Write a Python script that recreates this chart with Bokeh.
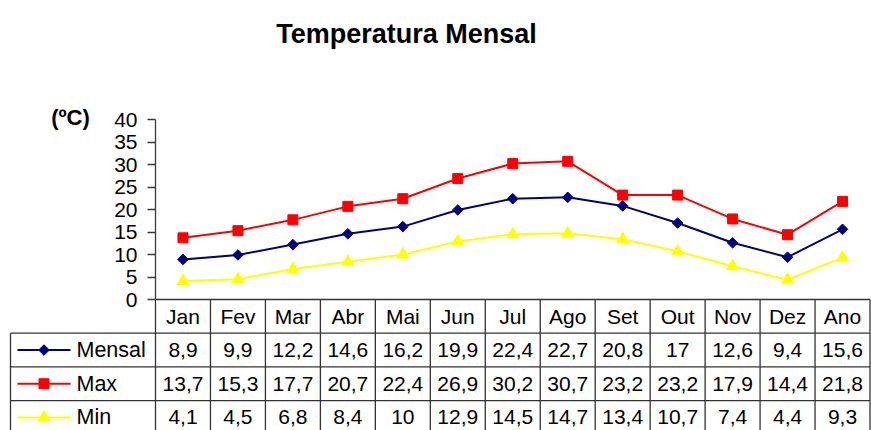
import numpy as np
from bokeh.plotting import figure
from bokeh.models import Range1d, LinearAxis, FixedTicker
from bokeh.embed import file_html
from bokeh.resources import INLINE
from bokeh.core.properties import value

# ---------------- data ----------------
title_text = "Temperatura Mensal"
unit_label = "(ºC)"
months = ["Jan", "Fev", "Mar", "Abr", "Mai", "Jun", "Jul", "Ago", "Set", "Out", "Nov", "Dez", "Ano"]
series_names = ["Mensal", "Max", "Min"]
mensal = [8.9, 9.9, 12.2, 14.6, 16.2, 19.9, 22.4, 22.7, 20.8, 17, 12.6, 9.4, 15.6]
tmax = [13.7, 15.3, 17.7, 20.7, 22.4, 26.9, 30.2, 30.7, 23.2, 23.2, 17.9, 14.4, 21.8]
tmin = [4.1, 4.5, 6.8, 8.4, 10, 12.9, 14.5, 14.7, 13.4, 10.7, 7.4, 4.4, 9.3]
y_ticks = [0, 5, 10, 15, 20, 25, 30, 35, 40]

# ---------------- layout (page pixels) ----------------
W, H = 871, 430
ORG = 0                     # canvas origin on the page
AX_X = 155                  # x of the value axis / first table column
Y_TOP, Y_ZERO = 119, 299    # y of 40 and of 0
ROW_H = 33.7
LEG_L = 10
FONT = "Liberation Sans"

n = len(months)
k = (W - (AX_X - ORG) - 1.5) / n          # px per column
ppu = (Y_ZERO - Y_TOP) / (max(y_ticks) - min(y_ticks))

x_range = Range1d(-(AX_X - ORG) / k, n + 1.5 / k)
y_range = Range1d(-(ORG + H - Y_ZERO) / ppu, max(y_ticks) + (Y_TOP - ORG) / ppu)

p = figure(width=W, height=H, x_range=x_range, y_range=y_range,
           x_axis_type=None, y_axis_type=None, toolbar_location=None,
           output_backend="svg", min_border=0)
p.min_border_left = p.min_border_right = p.min_border_top = p.min_border_bottom = 0
p.outline_line_color = None
p.background_fill_color = "white"
p.border_fill_color = "white"

p.extra_y_ranges = {
    "tab": Range1d((ORG + H - Y_ZERO) / ROW_H, -(Y_ZERO - ORG) / ROW_H),
    "py": Range1d(ORG + H, ORG),
}
p.extra_x_ranges = {"px": Range1d(ORG, ORG + W)}

# ---------------- value axis ----------------
yaxis = LinearAxis(fixed_location=0, bounds=(min(y_ticks), max(y_ticks)),
                   ticker=FixedTicker(ticks=y_ticks))
yaxis.axis_line_color = "#3a3a3a"
yaxis.axis_line_width = 1.3
yaxis.major_tick_line_color = "#3a3a3a"
yaxis.major_tick_line_width = 1.3
yaxis.major_tick_out = 8
yaxis.major_tick_in = 0
yaxis.minor_tick_line_color = None
yaxis.major_label_text_font = FONT
yaxis.major_label_text_font_size = "21px"
yaxis.major_label_text_color = "black"
yaxis.major_label_standoff = 10
p.add_layout(yaxis, "left")

# ---------------- series ----------------
xc = np.arange(n) + 0.5
styles = [
    dict(color="#000080", marker="square", size=7.5, angle=np.pi / 4),
    dict(color="#ff0000", marker="square", size=10, angle=0),
    dict(color="#ffff00", marker="triangle", size=12, angle=0),
]
series = [mensal, tmax, tmin]
for vals, st in zip(series, styles):
    p.line(xc, vals, line_color=st["color"], line_width=2)
for vals, st in zip(series, styles):
    p.scatter(xc, vals, marker=st["marker"], size=st["size"], angle=st["angle"],
              fill_color=st["color"], line_color=st["color"])

# ---------------- data table ----------------
tab_bottom = (ORG + H - Y_ZERO) / ROW_H + 0.2
leg_x = (LEG_L - AX_X) / k
n_rows = len(series_names) + 1
line_kw = dict(line_color="#333333", line_width=1.3, y_range_name="tab")
# vertical lines
p.segment(x0=list(range(n + 1)), y0=[0] * (n + 1), x1=list(range(n + 1)),
          y1=[tab_bottom] * (n + 1), **line_kw)
p.segment(x0=[leg_x], y0=[1], x1=[leg_x], y1=[tab_bottom], **line_kw)
# horizontal lines
p.segment(x0=[0] + [leg_x] * (n_rows - 1), y0=list(range(n_rows)),
          x1=[n] * n_rows, y1=list(range(n_rows)), **line_kw)


def fmt(v):
    if float(v).is_integer():
        return str(int(v))
    return f"{v:.1f}".replace(".", ",")


txt_kw = dict(text_font=value(FONT), text_font_size="21px", text_color="black",
              text_align="center", text_baseline="middle", y_range_name="tab")
p.text(x=xc, y=[0.5] * n, text=months, **txt_kw)
for r, vals in enumerate(series, start=1):
    p.text(x=xc, y=[r + 0.5] * n, text=[fmt(v) for v in vals], **txt_kw)

# legend keys in first column
for r, (name, st) in enumerate(zip(series_names, styles), start=1):
    p.line(x=[17, 70], y=[r + 0.5, r + 0.5], line_color=st["color"], line_width=2,
           x_range_name="px", y_range_name="tab")
    p.scatter(x=[43.5], y=[r + 0.5], marker=st["marker"], size=st["size"], angle=st["angle"],
              fill_color=st["color"], line_color=st["color"],
              x_range_name="px", y_range_name="tab")
p.text(x=[76] * len(series_names), y=[r + 0.5 for r in range(1, n_rows)], text=series_names,
       text_font=value(FONT), text_font_size="21.5px", text_color="black",
       text_align="left", text_baseline="middle", x_range_name="px", y_range_name="tab")

# ---------------- titles ----------------
p.text(x=[406], y=[33], text=[title_text], text_font=value(FONT), text_font_size="27px",
       text_font_style="bold", text_color="black", text_align="center",
       text_baseline="alphabetic", x_range_name="px", y_range_name="py")
p.text(x=[70], y=[117], text=[unit_label], text_font=value(FONT), text_font_size="22px",
       text_font_style="bold", text_color="black", text_align="center",
       text_baseline="alphabetic", x_range_name="px", y_range_name="py")

open("out.html", "w").write(file_html(p, INLINE))
